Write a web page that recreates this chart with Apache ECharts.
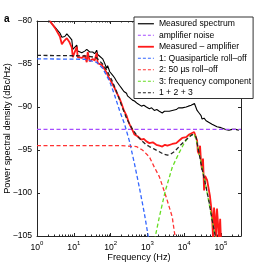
<!DOCTYPE html>
<html>
<head>
<meta charset="utf-8">
<script src="https://cdn.jsdelivr.net/npm/echarts@6/dist/echarts.min.js"></script>
<style>html,body{margin:0;padding:0;background:#fff;}#c{width:266px;height:267px;}</style>
</head>
<body>
<div id="c"></div>
<script>
// ---- data (frequency in Hz, level in dBc/Hz) ----
const measuredSpectrum = [[2.0,-79.8],[2.25,-80.1],[3.07,-80.7],[4.19,-81.4],[4.74,-81.9],[5.04,-82.0],[5.7,-81.8],[6.47,-81.5],[6.88,-81.6],[7.8,-81.9],[8.83,-82.2],[9.4,-83.3],[10.5,-83.2],[12.05,-82.8],[12.8,-83.5],[14.5,-83.6],[16.5,-83.7],[19.8,-83.5],[22.5,-83.3],[23.9,-83.1],[27.1,-83.6],[30,-83.7],[32.6,-83.6],[37,-83.8],[41.9,-83.4],[44.5,-83.9],[50.5,-84.1],[60.8,-84.4],[68.8,-84.9],[78,-85.5],[83,-85.2],[95,-85.9],[113,-86.3],[128,-86.6],[145,-87.0],[175,-87.5],[198,-87.8],[230,-88.2],[271,-88.4],[288,-88.7],[326,-88.9],[393,-89.2],[446,-89.3],[537,-89.6],[600,-89.5],[689,-89.9],[800,-89.8],[940,-90.0],[1132,-90.2],[1300,-90.1],[1545,-90.4],[1800,-90.3],[2110,-90.5],[2540,-90.7],[2900,-90.5],[3263,-90.6],[3935,-90.5],[4300,-90.3],[4745,-90.4],[6080,-90.3],[7000,-90.1],[8830,-90.1],[11320,-90.0],[13000,-89.9],[15460,-89.8],[19000,-89.6],[21090,-89.5],[22440,-90.4],[24000,-90.2],[25420,-90.7],[28770,-91.0],[30600,-91.4],[34740,-91.3],[39350,-91.6],[47430,-91.8],[52000,-91.7],[57150,-92.0],[64720,-92.2],[77980,-92.3],[100000,-92.4],[130000,-92.6],[164400,-92.7],[200000,-92.6],[250000,-92.6],[306400,-92.7]];
const amplifierNoise = [[1,-92.6],[350000,-92.6]];
const measuredMinusAmp = [[2.25,-80.0],[3.07,-80.8],[4.19,-81.8],[4.74,-82.7],[5.5,-82.3],[6.47,-82.0],[7.5,-82.4],[8.83,-83.1],[9.4,-84.2],[10.5,-84.0],[12.05,-83.0],[12.8,-84.2],[14.5,-84.4],[16.5,-84.3],[19.8,-84.0],[22.5,-84.8],[23.9,-83.6],[27.1,-84.7],[30,-84.5],[32.6,-84.4],[37,-84.6],[41.9,-83.7],[44.5,-84.9],[50,-85.0],[57.1,-85.1],[68.8,-85.6],[78,-86.0],[90,-86.6],[106,-87.1],[125,-87.7],[145,-88.3],[175,-89.0],[198,-89.6],[230,-90.4],[271,-91.0],[300,-91.6],[326,-92.0],[393,-92.7],[446,-93.2],[537,-93.4],[608,-93.5],[689,-93.8],[800,-93.7],[940,-94.0],[1132,-94.2],[1400,-94.1],[1750,-94.4],[2110,-94.5],[2540,-94.6],[3000,-94.4],[3500,-94.5],[3935,-94.4],[4745,-94.3],[6080,-94.2],[7330,-93.9],[8830,-93.6],[11320,-93.5],[13650,-93.2],[15460,-93.1],[18620,-92.9],[21090,-92.7],[22440,-93.9],[23500,-95.2],[25420,-95.5],[27000,-94.5],[28770,-96.5],[30600,-97.3],[32500,-96.0],[34740,-99.7],[37000,-98.0],[39350,-98.2],[42000,-98.5],[47430,-98.7],[50000,-100.3],[53700,-100.5],[57150,-102.5],[61000,-105.5],[64720,-101.7],[68000,-102.5],[73300,-105.5],[77980,-101.8],[83000,-103.5],[88320,-105.5],[95000,-103.0],[100000,-105.5]];
const quasiparticleRollOff = [[1,-84.4],[20,-84.45],[41.9,-84.8],[60.8,-85.5],[94,-87.0],[128,-88.6],[175,-90.4],[240,-92.0],[326,-94.0],[446,-96.6],[608,-99.4],[830,-102.4],[1050,-105.0],[1200,-106.5]];
const rollOff50us = [[1,-94.5],[200,-94.5],[505,-94.6],[733,-95.0],[1132,-95.8],[1545,-97.0],[2110,-98.1],[3263,-100.5],[4745,-102.8],[5400,-104.5],[5900,-105.5]];
const freqComponent = [[1400,-107],[1650,-105],[2110,-102.8],[3050,-99.8],[4745,-97.0],[7330,-95.3],[10000,-94.2],[13650,-93.4],[18620,-93.1],[22440,-94.2],[25420,-95.4],[39350,-99.3],[57150,-103.1],[73300,-105.5]];
const sum123 = [[1,-84.0],[20,-84.05],[35,-84.2],[41.9,-84.3],[60.8,-85.0],[78,-85.7],[106,-86.8],[145,-88.2],[198,-89.8],[271,-91.3],[393,-92.6],[537,-93.4],[689,-93.9],[940,-94.4],[1132,-94.6],[1545,-94.9],[2110,-95.2],[2800,-95.5],[3500,-95.6],[4200,-95.5],[5370,-95.2],[7330,-94.6],[10000,-94.0],[13650,-93.5],[16500,-93.2],[18620,-93.0],[21090,-93.5],[22440,-94.2],[25420,-95.4],[30600,-97.2],[39350,-99.3],[47430,-101.0],[57150,-103.1],[64720,-104.2],[73300,-105.5]];
const seriesNames = ['Measured spectrum','amplifier noise','Measured \u2013 amplifier','1: Quasiparticle roll\u2013off','2: 50 \u00b5s roll\u2013off','3: frequency component','1 + 2 + 3'];
const seriesColors = ['#000000','#a64dff','#ff1a1a','#3366ff','#ff3333','#66dd22','#222222'];
const seriesDashed = [false,true,false,true,true,true,true];
const xTickExponents = ['0','1','2','3','4','5'];
const yTicks = [-80,-85,-90,-95,-100,-105];
const xMin = 1, xMax = 350000;

// minor tick positions on the log axis (2..9 of each decade)
const minorTicks = [];
for (let d = 1; d <= 100000; d *= 10) for (let k = 2; k <= 9; k++) { if (d*k <= xMax) minorTicks.push(d*k); }

const FONT = 'Liberation Sans';
const AX = '#262626';
const DASH = [4,2.5];
const chart = echarts.init(document.getElementById('c'), null, {renderer:'canvas'});

function lineSeries(i, data, width, z) {
  const color = seriesColors[i];
  return {
    name: seriesNames[i], type:'line', data, xAxisIndex:0, yAxisIndex:0,
    showSymbol:false, symbol:'none', smooth:false, animation:false, z,
    lineStyle:{color, width, type: seriesDashed[i] ? DASH : 'solid'},
    itemStyle:{color}
  };
}

const legendData = seriesNames.map((n, i) => ({
  name:n,
  itemStyle:{color:'rgba(0,0,0,0)', borderColor:'rgba(0,0,0,0)', borderWidth:0, opacity:0},
  lineStyle:{color:seriesColors[i], width: i === 2 ? 1.8 : 1.2, type: seriesDashed[i] ? [3,2] : 'solid', opacity:1}
}));

const baseX = {type:'log', logBase:10, min:xMin, max:xMax, splitLine:{show:false}, gridIndex:0};
chart.setOption({
  animation:false,
  grid:{left:37, top:21, width:204, height:215, containLabel:false, outerBoundsMode:'none'},
  xAxis:[
    Object.assign({}, baseX, {
      position:'bottom',
      axisLine:{show:true, lineStyle:{color:AX, width:1}},
      axisTick:{show:true, inside:true, length:3, lineStyle:{color:AX}},
      axisLabel:{show:true, margin:3, color:'#000', fontFamily:FONT,
        formatter:(v)=>{ const e = xTickExponents[Math.round(Math.log10(v))]; return '{b|10}{s|' + e + '}'; },
        rich:{b:{fontSize:8.6, fontFamily:FONT, color:'#000', padding:[4,0,0,0]}, s:{fontSize:6, fontFamily:FONT, color:'#000', padding:[0,0,4,0]}}},
      name:'Frequency (Hz)', nameLocation:'middle', nameGap:17, nameMoveOverlap:false,
      nameTextStyle:{fontSize:9.2, fontFamily:FONT, color:'#000'}
    }),
    Object.assign({}, baseX, {
      position:'bottom', axisLine:{show:false},
      axisTick:{show:true, inside:true, length:1.5, customValues:minorTicks, lineStyle:{color:AX}},
      axisLabel:{show:false}
    }),
    Object.assign({}, baseX, {
      position:'top',
      axisLine:{show:true, lineStyle:{color:AX, width:1}},
      axisTick:{show:true, inside:true, length:3, lineStyle:{color:AX}},
      axisLabel:{show:false}
    }),
    Object.assign({}, baseX, {
      position:'top', axisLine:{show:false},
      axisTick:{show:true, inside:true, length:1.5, customValues:minorTicks, lineStyle:{color:AX}},
      axisLabel:{show:false}
    })
  ],
  yAxis:[
    {type:'value', min:-105, max:-80, interval:5, position:'left', gridIndex:0,
      axisLine:{show:true, lineStyle:{color:AX, width:1}},
      axisTick:{show:true, inside:true, length:3, lineStyle:{color:AX}},
      splitLine:{show:false},
      axisLabel:{margin:5, color:'#000', fontSize:8.6, fontFamily:FONT,
        formatter:(v)=> yTicks.indexOf(v) >= 0 ? (v < 0 ? '\u2212' + Math.abs(v) : String(v)) : ''},
      name:'Power spectral density (dBc/Hz)', nameLocation:'middle', nameGap:25, nameMoveOverlap:false,
      nameTextStyle:{fontSize:9.2, fontFamily:FONT, color:'#000'}
    },
    {type:'value', min:-105, max:-80, interval:5, position:'right', gridIndex:0,
      axisLine:{show:true, lineStyle:{color:AX, width:1}},
      axisTick:{show:true, inside:true, length:3, lineStyle:{color:AX}},
      splitLine:{show:false}, axisLabel:{show:false}
    }
  ],
  legend:{
    show:true, orient:'vertical', left:134, top:17,
    itemWidth:16, itemHeight:8, itemGap:0,
    padding:[1,2,0,3],
    backgroundColor:'#fff', borderColor:'#333', borderWidth:1, borderRadius:0,
    textStyle:{fontSize:8.6, fontFamily:FONT, color:'#000', lineHeight:11.5},
    itemStyle:{color:'rgba(0,0,0,0)', borderColor:'rgba(0,0,0,0)', borderWidth:0, opacity:0},
    data:legendData, selectedMode:false
  },
  graphic:[
    {type:'text', left:4, top:14, style:{text:'a', fontSize:10, fontWeight:'bold', fontFamily:FONT, fill:'#000'}}
  ],
  series:[
    lineSeries(0, measuredSpectrum, 1.1, 2),
    lineSeries(1, amplifierNoise, 1.2, 3),
    lineSeries(2, measuredMinusAmp, 1.8, 4),
    lineSeries(3, quasiparticleRollOff, 1.3, 5),
    lineSeries(4, rollOff50us, 1.3, 6),
    lineSeries(5, freqComponent, 1.3, 7),
    lineSeries(6, sum123, 1.3, 8)
  ]
});
</script>
</body>
</html>
